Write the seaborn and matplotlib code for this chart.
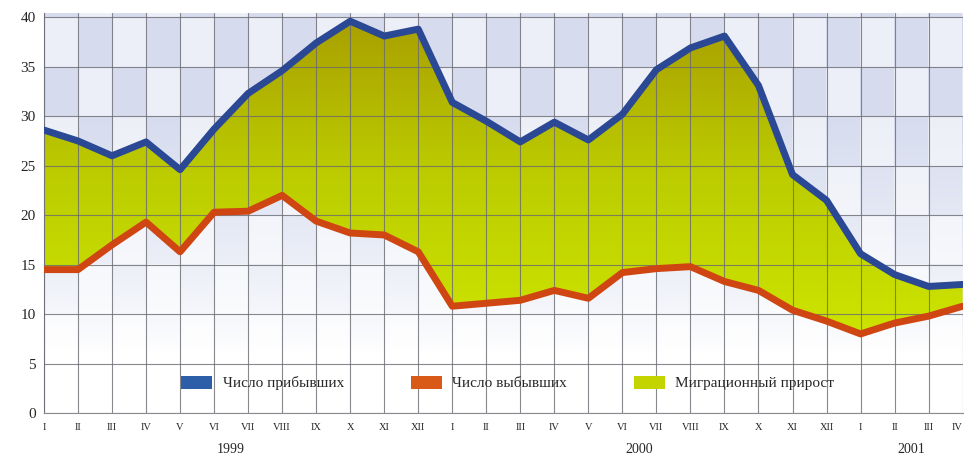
import numpy as np
import pandas as pd
import seaborn as sns
import matplotlib.pyplot as plt
from matplotlib.colors import LinearSegmentedColormap
from matplotlib.patches import Patch

# Month labels: 1999 (I..XII), 2000 (I..XII), 2001 (I..IV)
MONTHS = ["I", "II", "III", "IV", "V", "VI", "VII", "VIII", "IX", "X", "XI", "XII"]
MONTH_LABELS = MONTHS + MONTHS + MONTHS[:4]
YEARS = ["1999", "2000", "2001"]
YEAR_POS = [5.5, 17.5, 25.5]

# Number of arrivals (thousand)
ARRIVALS = [28.6, 27.5, 26.0, 27.4, 24.6, 28.7, 32.3, 34.6, 37.4, 39.6, 38.1, 38.8,
            31.4, 29.5, 27.4, 29.4, 27.6, 30.2, 34.7, 36.9, 38.1, 33.1, 24.1, 21.5,
            16.1, 14.0, 12.8, 13.0]
# Number of departures (thousand)
DEPARTURES = [14.5, 14.5, 17.0, 19.3, 16.3, 20.3, 20.4, 22.0, 19.4, 18.2, 18.0, 16.3,
              10.8, 11.1, 11.4, 12.4, 11.6, 14.2, 14.6, 14.8, 13.3, 12.4, 10.4, 9.3,
              8.0, 9.1, 9.8, 10.8]

LABEL_ARR = "Число прибывших"
LABEL_DEP = "Число выбывших"
LABEL_NET = "Миграционный прирост"

SERIF = ["Liberation Serif", "DejaVu Serif"]


def build_background(ax, n_cols, y_max):
    """Checkered blue tiles fading to white towards the bottom."""
    ny, nx = 400, 920
    ys = np.linspace(y_max, 0, ny)[:, None]
    xs = np.linspace(0, n_cols, nx)[None, :]
    checker = (np.floor(xs) + np.floor(ys / 5)) % 2
    fade = np.clip((ys - 6) / 24, 0, 1) ** 0.8
    strength = np.where(checker == 0, 0.40, 0.18) * fade
    blue = np.array([0.60, 0.66, 0.84])
    img = np.ones((ny, nx, 3)) * (1 - strength[..., None]) + blue * strength[..., None]
    ax.imshow(img, extent=(0, n_cols, 0, y_max), aspect="auto", zorder=0,
              interpolation="bilinear")


def plot_migration():
    x = np.arange(len(MONTH_LABELS))
    df = pd.DataFrame({"month": x, "arrivals": ARRIVALS, "departures": DEPARTURES})
    y_max = 40.4

    sns.set_style("white")
    plt.rcParams["font.family"] = SERIF

    fig = plt.figure(figsize=(9.64, 4.58), dpi=100)
    ax = fig.add_axes([0.0456, 0.098, 0.953, 0.873])

    build_background(ax, len(x) - 1, y_max)

    # gradient fill between the two lines
    poly = ax.fill_between(df["month"], df["departures"], df["arrivals"],
                           color="none", zorder=2)
    cmap = LinearSegmentedColormap.from_list("net", ["#cce400", "#bccc00", "#a89e00"])
    grad = np.linspace(0, 1, 256)[:, None][::-1]
    im = ax.imshow(grad, extent=(0, len(x) - 1, 0, y_max), aspect="auto",
                   cmap=cmap, zorder=2, vmin=0.2, vmax=1.0)
    im.set_clip_path(poly.get_paths()[0], transform=ax.transData)

    sns.lineplot(data=df, x="month", y="arrivals", ax=ax, color="#2a4894",
                 linewidth=5, zorder=4)
    sns.lineplot(data=df, x="month", y="departures", ax=ax, color="#cf4612",
                 linewidth=5, zorder=4)

    ax.set_xlim(0, len(x) - 1)
    ax.set_ylim(0, y_max)
    ax.set_xticks(x)
    ax.set_xticklabels(MONTH_LABELS, fontsize=7.5)
    ax.get_xticklabels()[-1].set_horizontalalignment("right")
    ax.set_yticks(range(0, 45, 5))
    ax.set_yticklabels([str(v) for v in range(0, 45, 5)], fontsize=11)
    ax.tick_params(axis="x", length=0, pad=7)
    ax.tick_params(axis="y", length=0, pad=6)
    ax.set_xlabel("")
    ax.set_ylabel("")

    ax.grid(True, color="#6a6a72", linewidth=0.8, alpha=0.8, zorder=1)
    ax.set_axisbelow(False)
    for line in ax.get_xgridlines() + ax.get_ygridlines():
        line.set_zorder(1)
    for side in ["top", "right"]:
        ax.spines[side].set_visible(False)
    for side in ["left", "bottom"]:
        ax.spines[side].set_color("#8a8a90")

    for label, pos in zip(YEARS, YEAR_POS):
        ax.text(pos, -0.09, label, transform=ax.get_xaxis_transform(),
                ha="center", va="center", fontsize=10)

    handles = [Patch(facecolor="#2c5fa8", edgecolor="none", label=LABEL_ARR),
               Patch(facecolor="#d85a16", edgecolor="none", label=LABEL_DEP),
               Patch(facecolor="#c4d400", edgecolor="none", label=LABEL_NET)]
    ax.legend(handles=handles, ncol=3, frameon=False, loc="center",
              bbox_to_anchor=(0.505, 0.075), fontsize=11, columnspacing=4.4,
              handlelength=2.0, handleheight=0.9, handletextpad=0.7)

    fig.savefig("out.png", dpi=100)


if __name__ == "__main__":
    plot_migration()
